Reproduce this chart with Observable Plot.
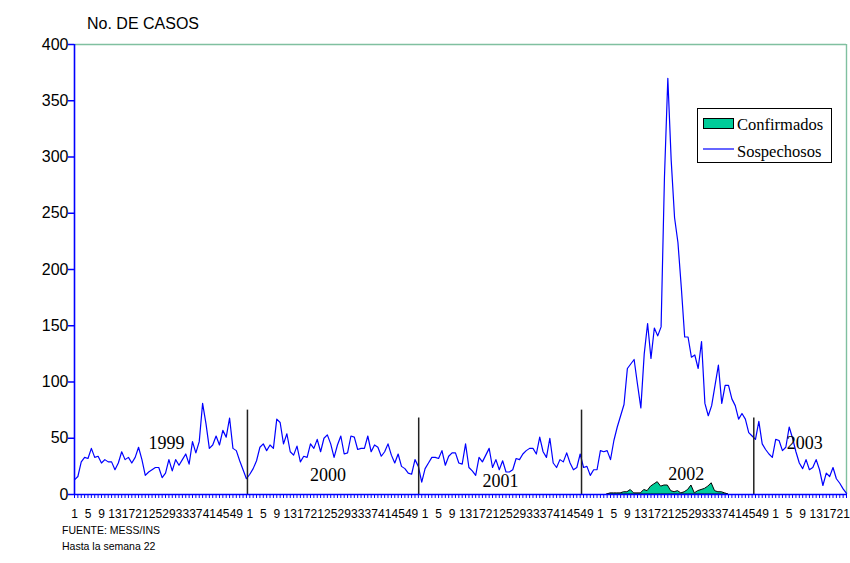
<!DOCTYPE html>
<html><head><meta charset="utf-8">
<script src="https://cdn.jsdelivr.net/npm/d3@7"></script>
<script src="https://cdn.jsdelivr.net/npm/@observablehq/plot@0.6"></script>
<style>
body{margin:0;background:#fff;}
#wrap{position:relative;width:850px;height:563px;}
#wrap svg.overlay{position:absolute;left:0;top:0;pointer-events:none;}
</style></head><body><div id="wrap"></div>
<script>
// Weekly suspected cases (Sospechosos) per year
const s1999 = [13,16,29,33,32,41,33,34,28,31,29,29,22,28,38,31,33,28,33,42,31,17,20,22,24,24,15,19,31,21,31,26,31,36,27,47,37,47,81,63,41,44,52,44,57,51,68,41,39,30,22,14];
const s2000 = [18,23,30,42,45,39,44,41,67,64,45,54,38,35,43,29,34,33,45,41,49,38,50,53,45,33,44,52,36,37,52,51,40,41,41,52,38,44,42,34,38,45,35,28,36,25,23,19,18,31,25,11];
const s2001 = [23,28,33,33,32,39,26,34,37,37,28,27,45,24,21,17,33,29,35,41,24,31,22,30,20,20,22,32,31,36,39,41,41,36,51,38,33,50,28,24,31,29,37,28,22,24,36,24,25,17,22,22];
const s2002 = [39,38,39,31,48,60,70,80,112,116,120,98,77,125,152,121,148,141,149,282,370,297,246,224,184,140,140,122,124,112,136,81,70,79,97,115,81,97,97,85,79,67,72,67,55,52,49,65,45,40,36,33];
const s2003 = [49,48,39,42,60,50,38,28,23,31,22,24,31,22,8,19,16,24,14,10,5,1];
// Weekly confirmed cases (Confirmados), 2002
const c2002 = [0,0,0,1,1,1,1,2,2,4,1,1,1,4,3,7,9,11,7,8,8,3,2,3,1,2,4,8,1,3,4,5,7,10,3,2,2,1,0,0,0,0,0,0,0,0,0,0,0,0,0,0];

const years = ["1999","2000","2001","2002","2003"];
const yearLabelWeek = [27.3, 75.2, 126.4, 181.5, 216.6];
const yearLabelValue = [46, 17, 12, 18, 46];
const yearBreakWeek = [51.3, 102.1, 150.4, 201.5];
const yearBreakTop = [75, 68, 75, 68];
const yTicks = [0,50,100,150,200,250,300,350,400];
const seriesNames = ["Confirmados","Sospechosos"];
const titleText = "No. DE CASOS";
const sourceText = "FUENTE: MESS/INS";
const noteText = "Hasta la semana 22";

const yearSeries = [s1999,s2000,s2001,s2002,s2003];
const weekLabels = [].concat(...yearSeries.map(a => a.map((_,k)=>String(k+1))));
const sosp = [].concat(...yearSeries).map((v,i)=>({i,v}));
const start2002 = s1999.length + s2000.length + s2001.length;
const confAll = c2002.map((v,k)=>({i:start2002+k, v}));
const firstNZ = confAll.findIndex(d=>d.v>0);
let lastNZ = confAll.length-1; while (lastNZ>0 && confAll[lastNZ].v===0) lastNZ--;
const conf = confAll.slice(Math.max(0,firstNZ-1), lastNZ+2);
const N = sosp.length;

const blue = "#0000ff";
const plot = Plot.plot({
  width:850, height:563,
  marginLeft:74, marginRight:4, marginTop:44, marginBottom:69,
  x:{type:"linear", domain:[0,N-1]},
  y:{domain:[0,400]},
  style:{fontFamily:"'Liberation Sans', Arial, sans-serif", background:"#fff", overflow:"visible"},
  marks:[
    Plot.ruleY([400],{stroke:"#80c0a0", strokeWidth:1.4}),
    Plot.ruleX([N-1],{stroke:"#80c0a0", strokeWidth:1.4}),
    Plot.areaY(conf,{x:"i", y:"v", fill:"#00cc99", stroke:"#000", strokeWidth:1}),
    Plot.lineY(sosp,{x:"i", y:"v", stroke:blue, strokeWidth:1.2}),
    Plot.ruleX(yearBreakWeek.map((x,k)=>({x, top:yearBreakTop[k]})),{x:"x", y1:0, y2:"top", stroke:"#222", strokeWidth:1.5}),
    Plot.text(years.map((t,k)=>({t, x:yearLabelWeek[k], y:yearLabelValue[k]})),{x:"x", y:"y", text:"t", fontFamily:"'Liberation Serif', 'Times New Roman', serif", fontSize:18, fill:"#000"}),
    Plot.axisY({ticks:yTicks, tickSize:6, tickPadding:0, fontSize:16, stroke:blue, fill:"#000", label:null, strokeWidth:1.5}),
    Plot.axisX({ticks:d3.range(N), tickSize:4, tickFormat:()=>"", stroke:blue, label:null}),
    Plot.axisX({ticks:d3.range(0,N,4), tickSize:0, tickPadding:15, tickFormat:i=>weekLabels[i], fontSize:12, fill:"#000", label:null}),
    Plot.ruleX([0],{stroke:blue, strokeWidth:1.6}),
    Plot.ruleY([0],{stroke:blue, strokeWidth:1.6})
  ]
});
const wrap = document.getElementById("wrap");
wrap.appendChild(plot);

const ns = "http://www.w3.org/2000/svg";
const ov = document.createElementNS(ns,"svg");
ov.setAttribute("class","overlay");
ov.setAttribute("width",850); ov.setAttribute("height",563);
function el(tag, attrs, text){
  const e = document.createElementNS(ns,tag);
  for (const k in attrs) e.setAttribute(k, attrs[k]);
  if (text!=null) e.textContent = text;
  ov.appendChild(e); return e;
}
const sans = "'Liberation Sans', Arial, sans-serif";
const serif = "'Liberation Serif', 'Times New Roman', serif";
el("text",{x:87,y:29,"font-family":sans,"font-size":16,fill:"#000"},titleText);
el("text",{x:62,y:534,"font-family":sans,"font-size":10.5,fill:"#000"},sourceText);
el("text",{x:62,y:550,"font-family":sans,"font-size":10.5,fill:"#000"},noteText);
// legend
el("rect",{x:697.5,y:108.5,width:134,height:54,fill:"#fff",stroke:"#000","stroke-width":1});
el("rect",{x:703.5,y:118.5,width:30,height:10,fill:"#00cc99",stroke:"#000","stroke-width":1});
el("text",{x:737,y:130,"font-family":serif,"font-size":16.5,fill:"#000"},seriesNames[0]);
el("line",{x1:703,x2:734,y1:149,y2:149,stroke:blue,"stroke-width":1.2});
el("text",{x:737,y:157,"font-family":serif,"font-size":16.5,fill:"#000"},seriesNames[1]);
wrap.appendChild(ov);
</script></body></html>
